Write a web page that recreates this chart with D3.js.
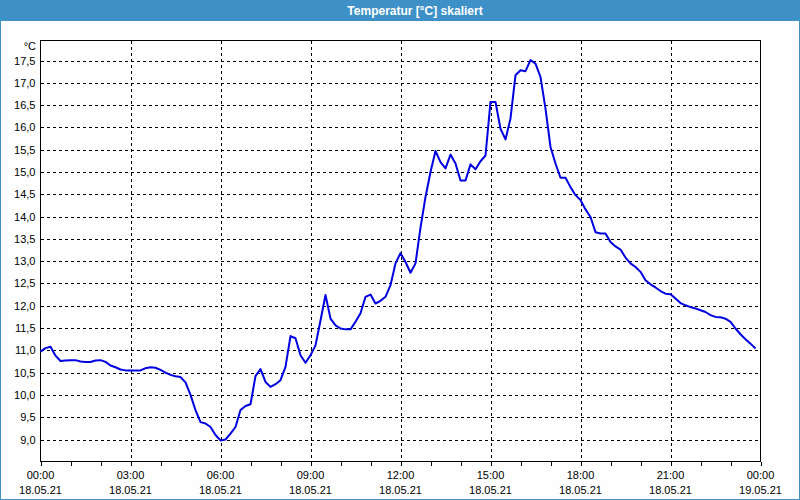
<!DOCTYPE html>
<html>
<head>
<meta charset="utf-8">
<script src="https://cdn.jsdelivr.net/npm/d3@7"></script>
<style>
  html, body { margin: 0; padding: 0; background: #fdfefd; }
  svg { display: block; }
  text { font-family: "Liberation Sans", Arial, sans-serif; }
</style>
</head>
<body>
<script>
const titleText = "Temperatur [°C] skaliert";
const unitLabel = "°C";
const day = "2021-05-18";

const times = [
  "00:00","00:10","00:20","00:30","00:40","00:50","01:00","01:10","01:20","01:30","01:40","01:50",
  "02:00","02:10","02:20","02:30","02:40","02:50","03:00","03:10","03:20","03:30","03:40","03:50",
  "04:00","04:10","04:20","04:30","04:40","04:50","05:00","05:10","05:20","05:30","05:40","05:50",
  "06:00","06:10","06:20","06:30","06:40","06:50","07:00","07:10","07:20","07:30","07:40","07:50",
  "08:00","08:10","08:20","08:30","08:40","08:50","09:00","09:10","09:20","09:30","09:40","09:50",
  "10:00","10:10","10:20","10:30","10:40","10:50","11:00","11:10","11:20","11:30","11:40","11:50",
  "12:00","12:10","12:20","12:30","12:40","12:50","13:00","13:10","13:20","13:30","13:40","13:50",
  "14:00","14:10","14:20","14:30","14:40","14:50","15:00","15:10","15:20","15:30","15:40","15:50",
  "16:00","16:10","16:20","16:30","16:40","16:50","17:00","17:10","17:20","17:30","17:40","17:50",
  "18:00","18:10","18:20","18:30","18:40","18:50","19:00","19:10","19:20","19:30","19:40","19:50",
  "20:00","20:10","20:20","20:30","20:40","20:50","21:00","21:10","21:20","21:30","21:40","21:50",
  "22:00","22:10","22:20","22:30","22:40","22:50","23:00","23:10","23:20","23:30","23:40","23:50"
];

const temps = [
  10.97,11.05,11.08,10.88,10.76,10.77,10.78,10.78,10.75,10.74,10.74,10.77,
  10.78,10.74,10.66,10.62,10.57,10.55,10.55,10.55,10.55,10.60,10.62,10.61,
  10.56,10.50,10.45,10.42,10.40,10.28,10.00,9.66,9.39,9.36,9.28,9.10,
  8.98,9.00,9.13,9.28,9.66,9.75,9.79,10.42,10.58,10.29,10.18,10.24,
  10.33,10.63,11.32,11.27,10.89,10.72,10.89,11.11,11.67,12.24,11.71,11.56,
  11.49,11.47,11.47,11.64,11.83,12.20,12.25,12.05,12.11,12.20,12.46,12.95,
  13.18,12.98,12.74,12.95,13.75,14.44,15.00,15.47,15.22,15.08,15.39,15.19,
  14.81,14.81,15.17,15.06,15.24,15.37,16.57,16.57,15.97,15.73,16.20,17.17,
  17.28,17.26,17.51,17.43,17.13,16.42,15.56,15.19,14.87,14.87,14.66,14.48,
  14.37,14.16,13.99,13.65,13.62,13.62,13.43,13.33,13.26,13.08,12.95,12.87,
  12.76,12.57,12.48,12.41,12.33,12.27,12.26,12.16,12.06,12.01,11.97,11.94,
  11.90,11.86,11.79,11.75,11.74,11.71,11.64,11.49,11.36,11.25,11.15,11.04
];

const yTicks = [9.0, 9.5, 10.0, 10.5, 11.0, 11.5, 12.0, 12.5, 13.0, 13.5, 14.0, 14.5, 15.0, 15.5, 16.0, 16.5, 17.0, 17.5];
const xTickTimes = ["2021-05-18T00:00","2021-05-18T03:00","2021-05-18T06:00","2021-05-18T09:00","2021-05-18T12:00","2021-05-18T15:00","2021-05-18T18:00","2021-05-18T21:00","2021-05-19T00:00"];
const xTickDates = ["18.05.21","18.05.21","18.05.21","18.05.21","18.05.21","18.05.21","18.05.21","18.05.21","19.05.21"];

const W = 800, H = 500;
const plot = { left: 40.5, right: 760.5, top: 40.5, bottom: 461.5 };
const blue = "#3d91c6";

const svg = d3.select("body").append("svg").attr("width", W).attr("height", H);

// window frame & title bar
svg.append("rect").attr("x", 0.5).attr("y", 0.5).attr("width", W - 1).attr("height", H - 1)
  .attr("fill", "#fdfefd").attr("stroke", blue).attr("stroke-width", 1);
svg.append("rect").attr("x", 0).attr("y", 0).attr("width", W).attr("height", 21).attr("fill", blue);
svg.append("text").attr("x", 415).attr("y", 14.5).attr("text-anchor", "middle")
  .attr("fill", "#ffffff").attr("font-weight", "bold").attr("font-size", "12px").text(titleText);

const parse = d3.timeParse("%Y-%m-%dT%H:%M");
const x = d3.scaleTime()
  .domain([parse("2021-05-18T00:00"), parse("2021-05-19T00:00")])
  .range([plot.left, plot.right]);
const y = d3.scaleLinear().domain([9, 17.5]).range([439.5, 60.5]);

const data = times.map((t, i) => ({ t: parse(day + "T" + t), v: temps[i] }));

// horizontal grid
svg.append("g").selectAll("line").data(yTicks).join("line")
  .attr("x1", plot.left).attr("x2", plot.right)
  .attr("y1", d => Math.round(y(d)) + 0.5).attr("y2", d => Math.round(y(d)) + 0.5)
  .attr("stroke", "#000").attr("stroke-width", 1).attr("stroke-dasharray", "3,3")
  .attr("shape-rendering", "crispEdges");

// vertical grid
const xTicks = xTickTimes.map(parse);
svg.append("g").selectAll("line").data(xTicks.slice(1, -1)).join("line")
  .attr("x1", d => Math.round(x(d)) + 0.5).attr("x2", d => Math.round(x(d)) + 0.5)
  .attr("y1", plot.top).attr("y2", plot.bottom)
  .attr("stroke", "#000").attr("stroke-width", 1).attr("stroke-dasharray", "3,3")
  .attr("shape-rendering", "crispEdges");

// plot border
svg.append("rect").attr("x", plot.left).attr("y", plot.top)
  .attr("width", plot.right - plot.left).attr("height", plot.bottom - plot.top)
  .attr("fill", "none").attr("stroke", "#000").attr("stroke-width", 1)
  .attr("shape-rendering", "crispEdges");

// x axis (hourly minor ticks, labels every 3h)
const xAxis = d3.axisBottom(x)
  .ticks(d3.timeHour.every(1))
  .tickSize(4)
  .tickFormat("");
const gx = svg.append("g").attr("transform", `translate(0,${plot.bottom})`).call(xAxis);
gx.select(".domain").remove();
gx.selectAll("line").attr("stroke", "#000").attr("shape-rendering", "crispEdges");

const fmtTime = d3.timeFormat("%H:%M");
const xl = svg.append("g").selectAll("text").data(xTicks).join("text")
  .attr("text-anchor", "middle").attr("font-size", "11px").attr("fill", "#000");
xl.append("tspan").attr("x", d => x(d)).attr("y", 479).text(d => fmtTime(d));
xl.append("tspan").attr("x", d => x(d)).attr("y", 494).text((d, i) => xTickDates[i]);

// y axis labels
const fmtY = v => d3.format(".1f")(v).replace(".", ",");
const yAxis = d3.axisLeft(y).tickValues(yTicks).tickSize(0).tickPadding(5).tickFormat(fmtY);
const gy = svg.append("g").attr("transform", `translate(${plot.left},0)`).call(yAxis);
gy.select(".domain").remove();
gy.selectAll("text").attr("font-size", "11px").attr("fill", "#000")
  .attr("font-family", "'Liberation Sans', Arial, sans-serif");

svg.append("text").attr("x", 36).attr("y", 50).attr("text-anchor", "end")
  .attr("font-size", "11px").attr("fill", "#000").text(unitLabel);

// data line
const line = d3.line().x(d => x(d.t)).y(d => y(d.v));
svg.append("path").datum(data).attr("d", line)
  .attr("fill", "none").attr("stroke", "#0000e0").attr("stroke-width", 2)
  .attr("stroke-linejoin", "round");
</script>
</body>
</html>
